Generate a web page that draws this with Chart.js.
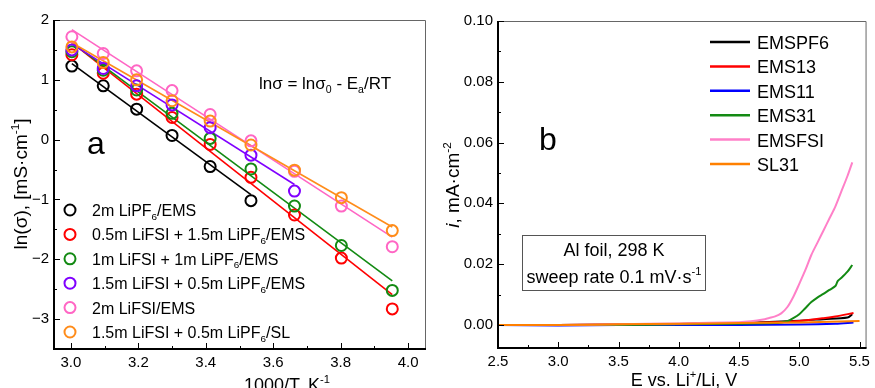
<!DOCTYPE html>
<html>
<head>
<meta charset="utf-8">
<script src="https://cdn.jsdelivr.net/npm/chart.js@4.4.1/dist/chart.umd.min.js"></script>
<style>
  body { margin: 0; background: #fff; }
  canvas { position: absolute; top: 0; }
  #condChart { left: 0; }
  #lsvChart { left: 440px; }
</style>
</head>
<body>
<canvas id="condChart" width="440" height="388"></canvas>
<canvas id="lsvChart" width="435" height="388"></canvas>
<script>
// ---- panel a: ln(sigma) vs 1000/T ----
const invT = [3.003, 3.096, 3.195, 3.300, 3.413, 3.534, 3.663, 3.802, 3.953];
const lnBlack  = [1.23, 0.90, 0.51, 0.07, -0.45, -1.02];
const lnRed    = [1.42, 1.11, 0.76, 0.37, -0.08, -0.63, -1.26, -1.98, -2.83];
const lnGreen  = [1.47, 1.16, 0.83, 0.44, 0.02, -0.49, -1.11, -1.77, -2.52];
const lnPurple = [1.50, 1.19, 0.90, 0.58, 0.20, -0.26, -0.86];
const lnPink   = [1.72, 1.44, 1.15, 0.82, 0.42, -0.02, -0.53, -1.11, -1.79];
const lnOrange = [1.55, 1.29, 1.00, 0.65, 0.31, -0.09, -0.51, -0.97, -1.52];
// linear fit end points [x, y]
const fitBlack  = [[3.003, 1.27], [3.534, -0.92]];
const fitRed    = [[3.003, 1.62], [3.953, -2.59]];
const fitGreen  = [[3.003, 1.62], [3.953, -2.36]];
const fitPurple = [[3.003, 1.60], [3.663, -0.75]];
const fitPink   = [[3.003, 1.84], [3.953, -1.63]];
const fitOrange = [[3.003, 1.62], [3.953, -1.46]];
const labelsA = ['2m LiPF6/EMS', '0.5m LiFSI + 1.5m LiPF6/EMS', '1m LiFSI + 1m LiPF6/EMS',
  '1.5m LiFSI + 0.5m LiPF6/EMS', '2m LiFSI/EMS', '1.5m LiFSI + 0.5m LiPF6/SL'];
const xTicksA = [3.0, 3.2, 3.4, 3.6, 3.8, 4.0];
const xMinorA = [3.1, 3.3, 3.5, 3.7, 3.9];
const yTicksA = [-3, -2, -1, 0, 1, 2];
const yMinorA = [-2.5, -1.5, -0.5, 0.5, 1.5];

// ---- panel b: LSV on Al foil ----
const eBlack = [2.5, 3.0, 3.5, 4.0, 4.5, 4.7, 5.0, 5.2, 5.4, 5.44];
const iBlack = [0, 0, 0.0001, 0.0003, 0.0006, 0.0009, 0.0014, 0.0019, 0.0024, 0.0035];
const eRed = [2.5, 3.0, 3.5, 4.0, 4.5, 4.8, 5.0, 5.2, 5.3, 5.45];
const iRed = [0, 0, 0.0001, 0.0003, 0.0006, 0.0009, 0.0013, 0.0022, 0.0028, 0.0039];
const eBlue = [2.5, 3.0, 3.5, 4.0, 4.5, 5.0, 5.3, 5.45];
const iBlue = [0, -0.0002, 0, 0, 0, 0.0001, 0.0004, 0.0008];
const eGreen = [2.5, 3.0, 3.5, 4.0, 4.5, 4.8, 4.85, 4.9, 4.95, 5.0, 5.05, 5.1, 5.15, 5.2, 5.25, 5.3, 5.32, 5.35, 5.4, 5.44];
const iGreen = [0, 0, 0, 0.0002, 0.0004, 0.0006, 0.0008, 0.0012, 0.0022, 0.0035, 0.0055, 0.0075, 0.009, 0.0102, 0.0115, 0.0128, 0.0145, 0.0155, 0.0175, 0.0197];
const ePink = [2.5, 3.0, 3.5, 4.0, 4.5, 4.6, 4.7, 4.75, 4.8, 4.85, 4.9, 4.95, 5.0, 5.05, 5.1, 5.15, 5.2, 5.25, 5.3, 5.35, 5.4, 5.44];
const iPink = [0, 0, 0.0002, 0.0005, 0.0009, 0.0012, 0.0018, 0.0023, 0.0028, 0.0038, 0.0058, 0.0092, 0.0135, 0.018, 0.023, 0.027, 0.031, 0.035, 0.039, 0.044, 0.049, 0.0535];
const eOrange = [2.5, 3.0, 3.5, 4.0, 4.5, 5.0, 5.5];
const iOrange = [0, 0, 0.0002, 0.0004, 0.0006, 0.0008, 0.0013];
const labelsB = ['EMSPF6', 'EMS13', 'EMS11', 'EMS31', 'EMSFSI', 'SL31'];
const xTicksB = [2.5, 3.0, 3.5, 4.0, 4.5, 5.0, 5.5];
const xMinorB = [2.75, 3.25, 3.75, 4.25, 4.75, 5.25];
const yTicksB = [0, 0.02, 0.04, 0.06, 0.08, 0.10];
const yMinorB = [0.01, 0.03, 0.05, 0.07, 0.09];

const FONT = '"Liberation Sans", Arial, sans-serif';
const colorsA = ['#000000', '#ff0000', '#138a13', '#8000ff', '#ff66c4', '#ff8c1a'];
const colorsB = ['#000000', '#ff0000', '#0000ff', '#138a13', '#ff80c8', '#ff8000'];

// draws text made of [text, mode] parts; mode: '', 'sub', 'sup', 'it'
function richText(ctx, parts, x, y, size, align) {
  const fontOf = (m) => (m === 'it' ? 'italic ' : '') +
    ((m === 'sub' || m === 'sup') ? size * 0.62 : size) + 'px ' + FONT;
  let w = 0;
  parts.forEach(([t, m]) => { ctx.font = fontOf(m); w += ctx.measureText(t).width; });
  let cx = align === 'center' ? x - w / 2 : x;
  ctx.textAlign = 'left';
  ctx.textBaseline = 'alphabetic';
  ctx.fillStyle = '#000';
  parts.forEach(([t, m]) => {
    ctx.font = fontOf(m);
    const dy = m === 'sub' ? size * 0.22 : m === 'sup' ? -size * 0.42 : 0;
    ctx.fillText(t, cx, y + dy);
    cx += ctx.measureText(t).width;
  });
}

function pf6Parts(label) {
  const bits = label.split('PF6');
  const out = [[bits[0] + 'PF', ''], ['6', 'sub'], [bits[1], '']];
  return bits.length > 1 ? out : [[label, '']];
}

// frame with inward ticks
function drawFrame(chart, minorX, minorY) {
  const { ctx, chartArea: a, scales } = chart;
  ctx.save();
  ctx.strokeStyle = '#666';
  ctx.lineWidth = 1;
  ctx.beginPath();
  ctx.moveTo(a.left, a.top + 0.5); ctx.lineTo(a.right + 0.5, a.top + 0.5); ctx.lineTo(a.right + 0.5, a.bottom);
  ctx.stroke();
  ctx.strokeStyle = '#000';
  ctx.lineWidth = 2;
  ctx.beginPath();
  ctx.moveTo(a.left, a.top); ctx.lineTo(a.left, a.bottom); ctx.lineTo(a.right + 1, a.bottom);
  ctx.stroke();
  ctx.lineWidth = 1;
  ctx.beginPath();
  scales.x.ticks.forEach(t => { const px = Math.round(scales.x.getPixelForValue(t.value)) + 0.5; ctx.moveTo(px, a.bottom); ctx.lineTo(px, a.bottom - 6); });
  minorX.forEach(v => { const px = Math.round(scales.x.getPixelForValue(v)) + 0.5; ctx.moveTo(px, a.bottom); ctx.lineTo(px, a.bottom - 3); });
  scales.y.ticks.forEach(t => { const py = Math.round(scales.y.getPixelForValue(t.value)) + 0.5; ctx.moveTo(a.left, py); ctx.lineTo(a.left + 6, py); });
  minorY.forEach(v => { const py = Math.round(scales.y.getPixelForValue(v)) + 0.5; ctx.moveTo(a.left, py); ctx.lineTo(a.left + 3, py); });
  ctx.stroke();
  ctx.restore();
}

function axisCfg(min, max, ticks, fmt, fit, pad) {
  return {
    type: 'linear', min: min, max: max,
    grid: { display: false, drawTicks: false },
    border: { display: false },
    ticks: { font: { family: FONT, size: 15 }, color: '#000', padding: pad, callback: fmt, autoSkip: false, maxRotation: 0 },
    afterBuildTicks: s => { s.ticks = ticks.map(v => ({ value: v })); },
    afterFit: fit
  };
}

const minus = v => (v < 0 ? '\u2212' + Math.abs(v) : String(v));

// ---- chart a ----
const seriesA = [lnBlack, lnRed, lnGreen, lnPurple, lnPink, lnOrange];
const fitsA = [fitBlack, fitRed, fitGreen, fitPurple, fitPink, fitOrange];
const datasetsA = [];
seriesA.forEach((ys, i) => {
  datasetsA.push({
    data: ys.map((y, k) => ({ x: invT[k], y: y })),
    showLine: false, pointStyle: 'circle', pointRadius: 5.5, pointBorderWidth: 2,
    borderColor: colorsA[i], backgroundColor: 'rgba(0,0,0,0)', order: 10 - i
  });
});
fitsA.forEach((f, i) => {
  datasetsA.push({
    data: f.map(p => ({ x: p[0], y: p[1] })),
    showLine: true, pointRadius: 0, borderWidth: 1.6, borderColor: colorsA[i], order: 30 - i
  });
});

const decorA = {
  id: 'decorA',
  afterDatasetsDraw(chart) {
    const ctx = chart.ctx;
    drawFrame(chart, xMinorA, yMinorA);
    ctx.save();
    labelsA.forEach((lab, i) => {
      const y = 210 + i * 24.4;
      ctx.beginPath();
      ctx.arc(70, y, 5.5, 0, Math.PI * 2);
      ctx.strokeStyle = colorsA[i];
      ctx.lineWidth = 2;
      ctx.stroke();
      richText(ctx, pf6Parts(lab), 92, y + 6, 16, 'left');
    });
    richText(ctx, [['ln\u03c3 = ln\u03c3', ''], ['0', 'sub'], [' - E', ''], ['a', 'sub'], ['/RT', '']], 259, 89, 17, 'left');
    richText(ctx, [['a', '']], 87, 154, 32, 'left');
    richText(ctx, [['1000/T, K', ''], ['-1', 'sup']], 287, 391, 18, 'center');
    ctx.translate(27, 184);
    ctx.rotate(-Math.PI / 2);
    richText(ctx, [['ln(\u03c3), [mS\u00b7cm', ''], ['-1', 'sup'], [']', '']], 0, 0, 19, 'center');
    ctx.restore();
  }
};

new Chart(document.getElementById('condChart'), {
  type: 'scatter',
  data: { datasets: datasetsA },
  options: {
    responsive: false, animation: false, devicePixelRatio: 1,
    layout: { padding: { left: 0, top: 20, right: 15, bottom: 0 } },
    plugins: { legend: { display: false }, tooltip: { enabled: false } },
    scales: {
      x: axisCfg(2.95, 4.05, xTicksA, v => v.toFixed(1), s => { s.height = 39; }, 5),
      y: axisCfg(-3.5, 2, yTicksA, minus, s => { s.width = 54; }, 5)
    }
  },
  plugins: [decorA]
});

// ---- chart b ----
const eB = [eBlack, eRed, eBlue, eGreen, ePink, eOrange];
const iB = [iBlack, iRed, iBlue, iGreen, iPink, iOrange];
const datasetsB = eB.map((es, k) => ({
  label: labelsB[k],
  data: es.map((e, j) => ({ x: e, y: iB[k][j] })),
  borderColor: colorsB[k], borderWidth: 2, pointRadius: 0, tension: 0.3, fill: false, order: 10 - k
}));

const decorB = {
  id: 'decorB',
  afterDatasetsDraw(chart) {
    const ctx = chart.ctx;
    drawFrame(chart, xMinorB, yMinorB);
    ctx.save();
    labelsB.forEach((lab, i) => {
      const y = 42 + i * 24.4;
      ctx.beginPath();
      ctx.moveTo(270, y); ctx.lineTo(310, y);
      ctx.strokeStyle = colorsB[i];
      ctx.lineWidth = 2.5;
      ctx.stroke();
      richText(ctx, [[lab, '']], 317, y + 7, 18, 'left');
    });
    richText(ctx, [['b', '']], 99, 150, 32, 'left');
    ctx.strokeStyle = '#555';
    ctx.lineWidth = 1;
    ctx.strokeRect(82.5, 235.5, 183, 55);
    richText(ctx, [['Al foil, 298 K', '']], 174, 256, 18, 'center');
    richText(ctx, [['sweep rate 0.1 mV\u00b7s', ''], ['-1', 'sup']], 174, 283, 18, 'center');
    richText(ctx, [['E vs. Li', ''], ['+', 'sup'], ['/Li, V', '']], 244, 386, 18, 'center');
    ctx.translate(19, 185);
    ctx.rotate(-Math.PI / 2);
    richText(ctx, [['i', 'it'], [', mA\u00b7cm', ''], ['-2', 'sup']], 0, 0, 19, 'center');
    ctx.restore();
  }
};

new Chart(document.getElementById('lsvChart'), {
  type: 'line',
  data: { datasets: datasetsB },
  options: {
    responsive: false, animation: false, devicePixelRatio: 1,
    layout: { padding: { left: 0, top: 21, right: 3, bottom: 0 } },
    plugins: { legend: { display: false }, tooltip: { enabled: false } },
    scales: {
      x: axisCfg(2.5, 5.55, xTicksB, v => v.toFixed(1), s => { s.height = 40; }, 5),
      y: axisCfg(-0.0076, 0.1, yTicksB, v => v.toFixed(2), s => { s.width = 58; }, 5)
    }
  },
  plugins: [decorB]
});
</script>
</body>
</html>
